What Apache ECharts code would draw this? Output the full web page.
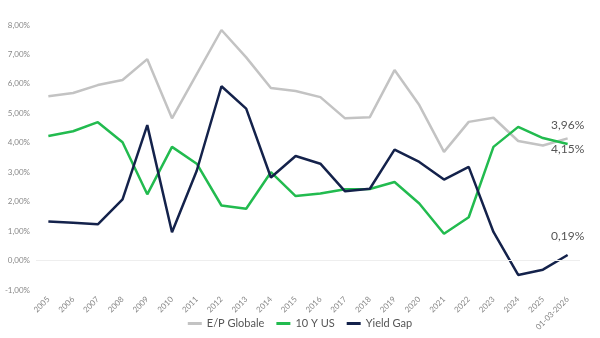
<!DOCTYPE html>
<html><head><meta charset="utf-8">
<script src="https://cdn.jsdelivr.net/npm/echarts@6/dist/echarts.min.js"></script>
<style>html,body{margin:0;padding:0;background:#fff}#c{width:600px;height:338px}</style>
</head><body><div id="c"></div>
<script>
const categories = ['2005','2006','2007','2008','2009','2010','2011','2012','2013','2014','2015','2016','2017','2018','2019','2020','2021','2022','2023','2024','2025','01-03-2026'];
const epGlobale = [5.58,5.69,5.96,6.13,6.84,4.83,6.33,7.83,6.90,5.86,5.76,5.55,4.83,4.87,6.47,5.28,3.69,4.71,4.85,4.06,3.91,4.15];
const us10y = [4.23,4.39,4.70,4.02,2.25,3.86,3.29,1.87,1.76,3.00,2.19,2.28,2.42,2.43,2.67,1.94,0.91,1.47,3.86,4.54,4.16,3.96];
const yieldGap = [1.33,1.28,1.23,2.08,4.60,0.96,3.05,5.92,5.16,2.82,3.55,3.29,2.35,2.44,3.77,3.35,2.75,3.18,0.97,-0.49,-0.31,0.19];
const yTicks = {min:-1, max:8, interval:1};

const fmt = v => v.toFixed(2).replace('.', ',') + '%';
const font = 'Lato, "Open Sans", sans-serif';

function lastLabel(arr, pos, dist) {
  return arr.map((v, i) => i === arr.length - 1 ? {
    value: v,
    label: {show: true, position: pos, distance: dist, formatter: p => fmt(p.value),
      color: '#555', fontSize: 12, fontFamily: font}
  } : v);
}

const common = {type: 'line', symbol: 'circle', symbolSize: 0, showSymbol: true, showAllSymbol: true};

const chart = echarts.init(document.getElementById('c'), null, {renderer: 'canvas'});
chart.setOption({
  animation: false,
  grid: {left: 36, right: 20, top: 25, bottom: 48},
  legend: {
    bottom: 4, left: 'center', itemWidth: 14, itemHeight: 3, itemGap: 12,
    icon: 'rect',
    textStyle: {color: '#555', fontSize: 11, fontFamily: font},
    data: ['E/P Globale', '10 Y US', 'Yield Gap']
  },
  xAxis: {
    type: 'category', data: categories, boundaryGap: true,
    axisLine: {show: false}, axisTick: {show: false},
    axisLabel: {rotate: 45, color: '#888', fontSize: 8, fontFamily: font, interval: 0, margin: 8}
  },
  yAxis: {
    type: 'value', min: yTicks.min, max: yTicks.max, interval: yTicks.interval,
    axisLine: {show: false}, axisTick: {show: false},
    splitLine: {show: false},
    axisLabel: {color: '#888', fontSize: 8, fontFamily: font, margin: 6, formatter: v => fmt(v)}
  },
  series: [
    Object.assign({name: 'E/P Globale', data: lastLabel(epGlobale, 'bottom', 5),
      lineStyle: {color: '#c3c3c3', width: 2.5}, itemStyle: {color: '#c3c3c3'},
      markLine: {silent: true, symbol: 'none', label: {show: false},
        lineStyle: {color: '#eeeeee', width: 1, type: 'solid'}, data: [{yAxis: 0}]}}, common),
    Object.assign({name: '10 Y US', data: lastLabel(us10y, 'top', 13),
      lineStyle: {color: '#22bb4f', width: 2.5}, itemStyle: {color: '#22bb4f'}}, common),
    Object.assign({name: 'Yield Gap', data: lastLabel(yieldGap, 'top', 13),
      lineStyle: {color: '#14224b', width: 2.5}, itemStyle: {color: '#14224b'}, z: 3}, common)
  ]
});
</script></body></html>
